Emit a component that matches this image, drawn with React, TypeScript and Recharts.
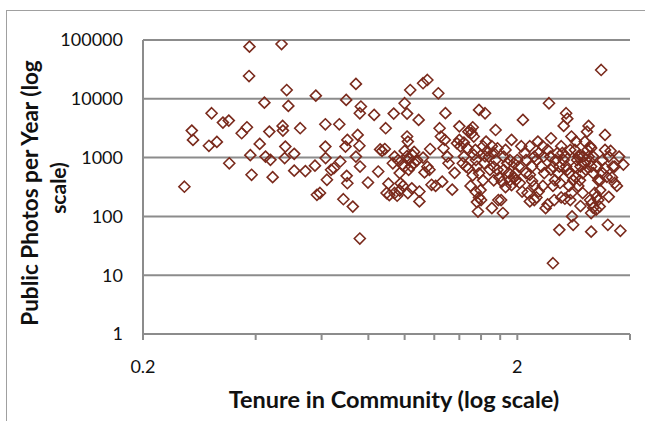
import { ScatterChart, Scatter, XAxis, YAxis, CartesianGrid } from "recharts";

// values, grouped by tenure band
const tenureLow = [
  0.258, 0.27, 0.272, 0.3, 0.305, 0.315, 0.327, 0.339, 0.34, 0.367, 0.379, 0.385, 0.384, 0.387, 0.39, 0.41,
  0.422, 0.425, 0.435, 0.438, 0.444, 0.469, 0.472, 0.473, 0.478, 0.48, 0.484, 0.489, 0.507, 0.507, 0.526,
  0.543, 0.576, 0.579, 0.583, 0.594, 0.614, 0.614, 0.615, 0.62, 0.636, 0.647, 0.669, 0.673, 0.686, 0.695,
  0.698, 0.7, 0.703, 0.703, 0.727, 0.741, 0.741, 0.749, 0.759, 0.757, 0.76, 0.764, 0.759, 0.798, 0.829,
];
const photosLow = [
  320, 2880, 2000, 1590, 5680, 1850, 3940, 4260, 800, 2600, 3280, 77000, 24400, 1100, 510, 1710,
  8600, 1040, 2770, 915, 465, 85500, 3460, 2880, 980, 1540, 14100, 7570, 1160, 600, 3160,
  590, 730, 11300, 233, 250, 3690, 1540, 980, 420, 620, 660, 3690, 860, 196, 1540,
  9570, 490, 367, 2000, 147, 17900, 1040, 2430, 42, 1590, 705, 7380, 5680, 377, 5320,
];

const tenureMid = [
  0.85, 0.86, 0.87, 0.885, 0.89, 0.905, 0.895, 0.91, 0.935, 0.94, 0.94, 0.955, 0.97, 0.975, 0.97, 1.0,
  1.015, 1.015, 1.02, 1.0, 1.015, 1.03, 1.04, 1.05, 1.06, 1.0, 1.025, 1.035, 1.09, 1.095, 1.095, 1.12,
  1.15, 1.15, 1.165, 1.17, 1.18, 1.21, 1.23, 1.24, 1.25, 1.28, 1.27, 1.26, 1.285, 1.3, 1.31, 1.34, 1.36,
  0.93, 0.96, 0.985, 0.99, 1.02, 1.045, 1.06, 1.08, 1.12, 1.13,
];
const photosMid = [
  580, 1380, 1300, 1400, 3160, 360, 250, 230, 5600, 1040, 250, 225, 545, 365, 275, 8400,
  5600, 2280, 1870, 1300, 1060, 950, 710, 1100, 810, 700, 620, 14100, 4370, 265, 180, 18400,
  20900, 700, 620, 1400, 345, 330, 12400, 3160, 2280, 2000, 1440, 390, 5700, 1040, 800, 285, 550,
  800, 900, 760, 330, 250, 300, 1250, 900, 1000, 560,
];

const tenureUpper = [
  1.38, 1.4, 1.41, 1.4, 1.44, 1.46, 1.43, 1.48, 1.5, 1.52, 1.51, 1.53, 1.53, 1.55, 1.56, 1.58, 1.545,
  1.58, 1.57, 1.6, 1.595, 1.62, 1.64, 1.65, 1.66, 1.68, 1.71, 1.73, 1.75, 1.77, 1.79, 1.82, 1.73, 1.69,
  1.83, 1.81, 1.84, 1.86, 1.91, 1.93, 1.96, 1.98, 1.98, 1.48, 1.52, 1.5, 1.55, 1.56, 1.58, 1.44, 1.47,
  1.62, 1.64, 1.63, 1.71, 1.73, 1.75, 1.77, 1.78, 1.84, 1.86, 1.88, 1.9, 1.91, 1.93, 1.96, 2.0, 2.02,
];
const photosUpper = [
  1750, 2000, 1560, 3400, 1040, 700, 800, 2760, 2950, 3280, 2600, 2280, 1110, 910, 705, 540, 1350,
  6470, 121, 190, 280, 410, 5680, 1870, 1300, 1040, 138, 410, 2950, 620, 460, 390, 700, 620,
  114, 190, 620, 315, 910, 2000, 800, 545, 410, 660, 500, 330, 260, 175, 210, 1800, 1450,
  1560, 1050, 800, 1560, 1200, 910, 1440, 190, 1040, 1350, 800, 545, 410, 340, 460, 910, 705,
];

const tenureHigh = [
  2.07, 2.03, 2.06, 2.13, 2.16, 2.11, 2.19, 2.22, 2.27, 2.28, 2.35, 2.38, 2.41, 2.36, 2.34, 2.43, 2.46,
  2.49, 2.49, 2.52, 2.53, 2.59, 2.62, 2.62, 2.64, 2.68, 2.7, 2.72, 2.66, 2.75, 2.77, 2.79, 2.82, 2.86,
  2.8, 2.82, 2.86, 2.89, 2.91, 2.93, 2.99, 2.95, 2.99, 2.05, 2.09, 2.11, 2.16, 2.19, 2.22, 2.22, 2.25,
  2.28, 2.16, 2.25, 2.32, 2.34, 2.41, 2.45, 2.46, 2.49, 2.51, 2.56, 2.57, 2.59, 2.6, 2.66, 2.68, 2.7,
  2.72, 2.75, 2.79, 2.77, 2.85, 2.87, 2.91, 2.94, 2.95,
];
const photosHigh = [
  4370, 370, 265, 250, 180, 545, 705, 1040, 1870, 1190, 1040, 138, 160, 545, 330, 8400, 2130,
  16, 705, 410, 910, 59, 210, 1560, 1200, 200, 5680, 4600, 3460, 545, 1350, 2280, 410, 460,
  100, 72, 705, 910, 1040, 1100, 545, 150, 250, 1560, 1200, 910, 510, 400, 330, 190, 210,
  265, 1560, 910, 705, 1560, 1350, 1040, 620, 330, 190, 1200, 545, 705, 370, 910, 1040, 705,
  620, 330, 250, 190, 1350, 1870, 330, 410, 705,
];

const tenureTop = [
  3.03, 3.07, 3.08, 3.1, 3.13, 3.15, 3.13, 3.15, 3.16, 3.19, 3.15, 3.19, 3.25, 3.29, 3.35, 3.33, 3.43,
  3.38, 3.43, 3.49, 3.51, 3.58, 3.77, 3.74, 3.84, 3.64, 2.99, 3.03, 3.05, 3.1, 3.13, 3.15, 3.19, 3.22,
  3.26, 3.29, 3.32, 3.25, 3.33, 3.38, 3.43, 3.47, 3.51, 3.55, 3.6, 3.64, 3.69,
];
const photosTop = [
  1870, 2760, 1350, 3460, 1560, 1450, 190, 114, 165, 140, 55, 545, 705, 410, 30900, 280, 2430,
  910, 1350, 72, 215, 460, 57, 1040, 760, 705, 1040, 800, 620, 1040, 860, 705, 1040, 250,
  215, 190, 147, 130, 410, 545, 660, 470, 1040, 1300, 705, 370, 330,
];

const xTicks = [0.2, 0.4, 0.6, 0.8, 1, 1.2, 1.4, 1.6, 1.8, 2, 4];
const yTicks = [1, 10, 100, 1000, 10000, 100000];

const MARK = "#7a2a1c";
const AXIS = "#8c8c8c";
const FONT = "Lato, 'Open Sans', sans-serif";

const zip = (xs: number[], ys: number[]) => xs.map((x, i) => ({ tenure: x, photos: ys[i] }));

const points = [
  ...zip(tenureLow, photosLow),
  ...zip(tenureMid, photosMid),
  ...zip(tenureUpper, photosUpper),
  ...zip(tenureHigh, photosHigh),
  ...zip(tenureTop, photosTop),
];

const Diamond = (props: any) => {
  const { cx, cy } = props;
  if (cx == null || cy == null) return null;
  const r = 5.5;
  return (
    <path
      d={`M${cx},${cy - r}L${cx + r},${cy}L${cx},${cy + r}L${cx - r},${cy}Z`}
      fill="none"
      stroke={MARK}
      strokeWidth={1.6}
    />
  );
};

export default function App() {
  return (
    <div style={{ position: "fixed", left: 0, top: 0, width: 645, height: 421, background: "#fff", fontFamily: FONT }}>
      <div
        style={{
          position: "absolute",
          left: 6,
          top: 10,
          width: 639,
          height: 411,
          borderTop: "1px solid #a0a0a0",
          borderLeft: "1px solid #a0a0a0",
        }}
      />
      <ScatterChart width={645} height={421} margin={{ top: 40, right: 15, bottom: 0, left: 0 }}>
        <CartesianGrid vertical={false} stroke={AXIS} strokeWidth={2} />
        <XAxis
          type="number"
          dataKey="tenure"
          scale="log"
          domain={[0.2, 4]}
          ticks={xTicks}
          allowDataOverflow
          height={87}
          stroke={AXIS}
          strokeWidth={2}
          tickSize={6}
          tickMargin={20}
          tickFormatter={(v: number) => (v === 0.2 || v === 2 ? String(v) : "")}
          tick={{ fill: "#111", fontSize: 18, fontFamily: FONT }}
        />
        <YAxis
          type="number"
          dataKey="photos"
          scale="log"
          domain={[1, 100000]}
          ticks={yTicks}
          allowDataOverflow
          width={143}
          stroke={AXIS}
          strokeWidth={2}
          tickLine={false}
          tickMargin={14}
          tick={{ fill: "#111", fontSize: 18, fontFamily: FONT }}
        />
        <Scatter data={points} shape={<Diamond />} isAnimationActive={false} />
      </ScatterChart>
      <div
        style={{
          position: "absolute",
          left: 394,
          top: 399,
          transform: "translate(-50%, -50%)",
          whiteSpace: "nowrap",
          fontWeight: 700,
          fontSize: 23.5,
          color: "#111",
        }}
      >
        Tenure in Community (log scale)
      </div>
      <div
        style={{
          position: "absolute",
          left: 29,
          top: 193,
          transform: "translate(-50%, -50%) rotate(-90deg)",
          whiteSpace: "nowrap",
          fontWeight: 700,
          fontSize: 22.5,
          color: "#111",
        }}
      >
        Public Photos per Year (log
      </div>
      <div
        style={{
          position: "absolute",
          left: 57,
          top: 188,
          transform: "translate(-50%, -50%) rotate(-90deg)",
          whiteSpace: "nowrap",
          fontWeight: 700,
          fontSize: 21,
          color: "#111",
        }}
      >
        scale)
      </div>
    </div>
  );
}
